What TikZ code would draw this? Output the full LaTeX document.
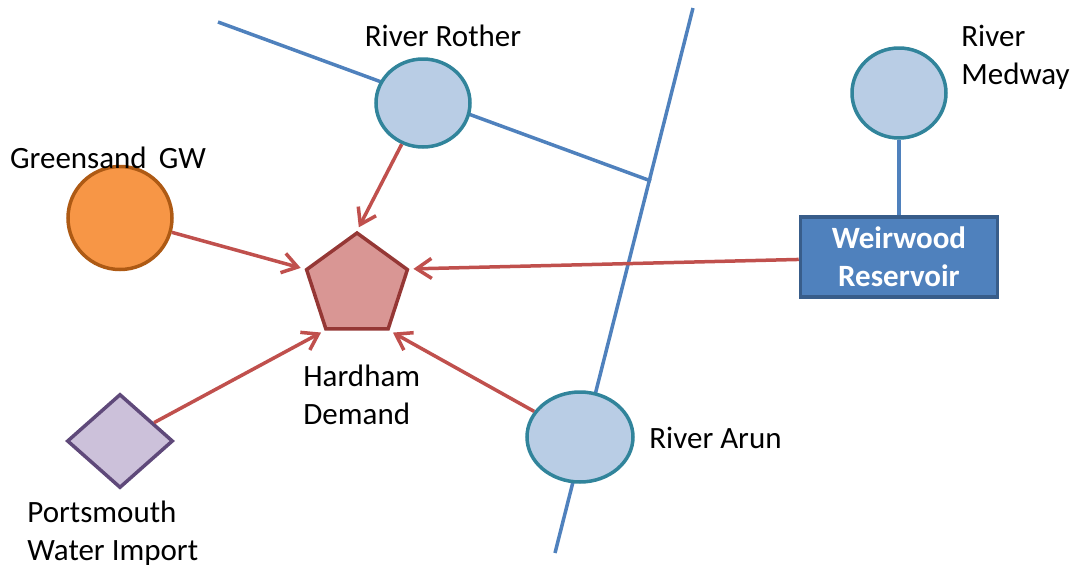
\documentclass[tikz,border=0pt]{standalone}
\usepackage{fontspec}
\setmainfont{Carlito}
\usetikzlibrary{shapes.geometric,arrows.meta}

\definecolor{riverblue}{HTML}{4F81BD}
\definecolor{riverfill}{HTML}{B9CDE5}
\definecolor{riveredge}{HTML}{31849B}
\definecolor{flowred}{HTML}{C0504D}
\definecolor{gwfill}{HTML}{F79646}
\definecolor{gwedge}{HTML}{AE5A14}
\definecolor{demfill}{HTML}{D99694}
\definecolor{demedge}{HTML}{953735}
\definecolor{impfill}{HTML}{CCC1DA}
\definecolor{impedge}{HTML}{5F497A}
\definecolor{resedge}{HTML}{385D8A}

\begin{document}
\begin{tikzpicture}[x=0.5pt,y=-0.5pt,
    font=\fontsize{15.5}{19}\selectfont,
    river/.style={draw=riverblue,line width=1.75pt},
    flow/.style={draw=flowred,line width=1.75pt,-{Straight Barb[length=7.5pt,width=10pt]},shorten >=2pt},
    gauge/.style={ellipse,draw=riveredge,fill=riverfill,line width=1.75pt,inner sep=0pt},
    label/.style={inner sep=0pt,align=left}]
  \useasboundingbox (0,0) rectangle (1073,569);

  % rivers
  \coordinate (rothersrc) at (218,22);
  \coordinate (rothermouth) at (651,181);
  \coordinate (arunsrc) at (693,8);
  \coordinate (arunend) at (555,553);
  \draw[river] (rothersrc) -- (rothermouth);
  \draw[river] (arunsrc) -- (arunend);

  % sources and demand
  \node[gauge,minimum width=47pt,minimum height=44pt] (rother) at (423,103) {};
  \node[gauge,minimum width=47pt,minimum height=45pt] (medway) at (899,93) {};
  \node[gauge,minimum width=53pt,minimum height=45pt] (arun) at (580,437) {};
  \node[ellipse,draw=gwedge,fill=gwfill,line width=1.75pt,inner sep=0pt,
        minimum width=52pt,minimum height=51.5pt] (greensand) at (120,218) {};
  \node[regular polygon,regular polygon sides=5,draw=demedge,fill=demfill,
        line width=1.75pt,inner sep=0pt,minimum size=53pt] (hardham) at (357,286) {};
  \node[diamond,draw=impedge,fill=impfill,line width=1.75pt,inner sep=0pt,
        minimum width=53pt,minimum height=47pt] (portsmouth) at (120,441) {};
  \node[draw=resedge,fill=riverblue,line width=1.75pt,inner sep=0pt,
        minimum width=98.5pt,minimum height=40pt,align=center,text=white,
        font=\fontsize{15.5}{19}\selectfont\bfseries] (weirwood) at (899,257)
        {Weirwood\\Reservoir};

  \draw[river] (medway) -- (weirwood);

  % flows
  \draw[flow] (rother) -- (hardham.corner 1);
  \draw[flow] (greensand) -- (hardham.corner 2);
  \draw[flow] (portsmouth) -- (hardham.corner 3);
  \draw[flow] (arun) -- (hardham.corner 4);
  \draw[flow] (weirwood) -- (hardham.corner 5);

  % labels
  \node[label] (rotherlbl) at (443,36) {River Rother};
  \node[label,anchor=west] (medwaylbl) at (961,57) {River\\Medway};
  \node[label] (greensandlbl) at (108,158) {Greensand\ \,GW};
  \node[label,anchor=west] (hardhamlbl) at (303,395) {Hardham\\Demand};
  \node[label,anchor=west] (arunlbl) at (649,438) {River Arun};
  \node[label,anchor=west] (portsmouthlbl) at (27,533) {Portsmouth\\Water Import};
\end{tikzpicture}
\end{document}
